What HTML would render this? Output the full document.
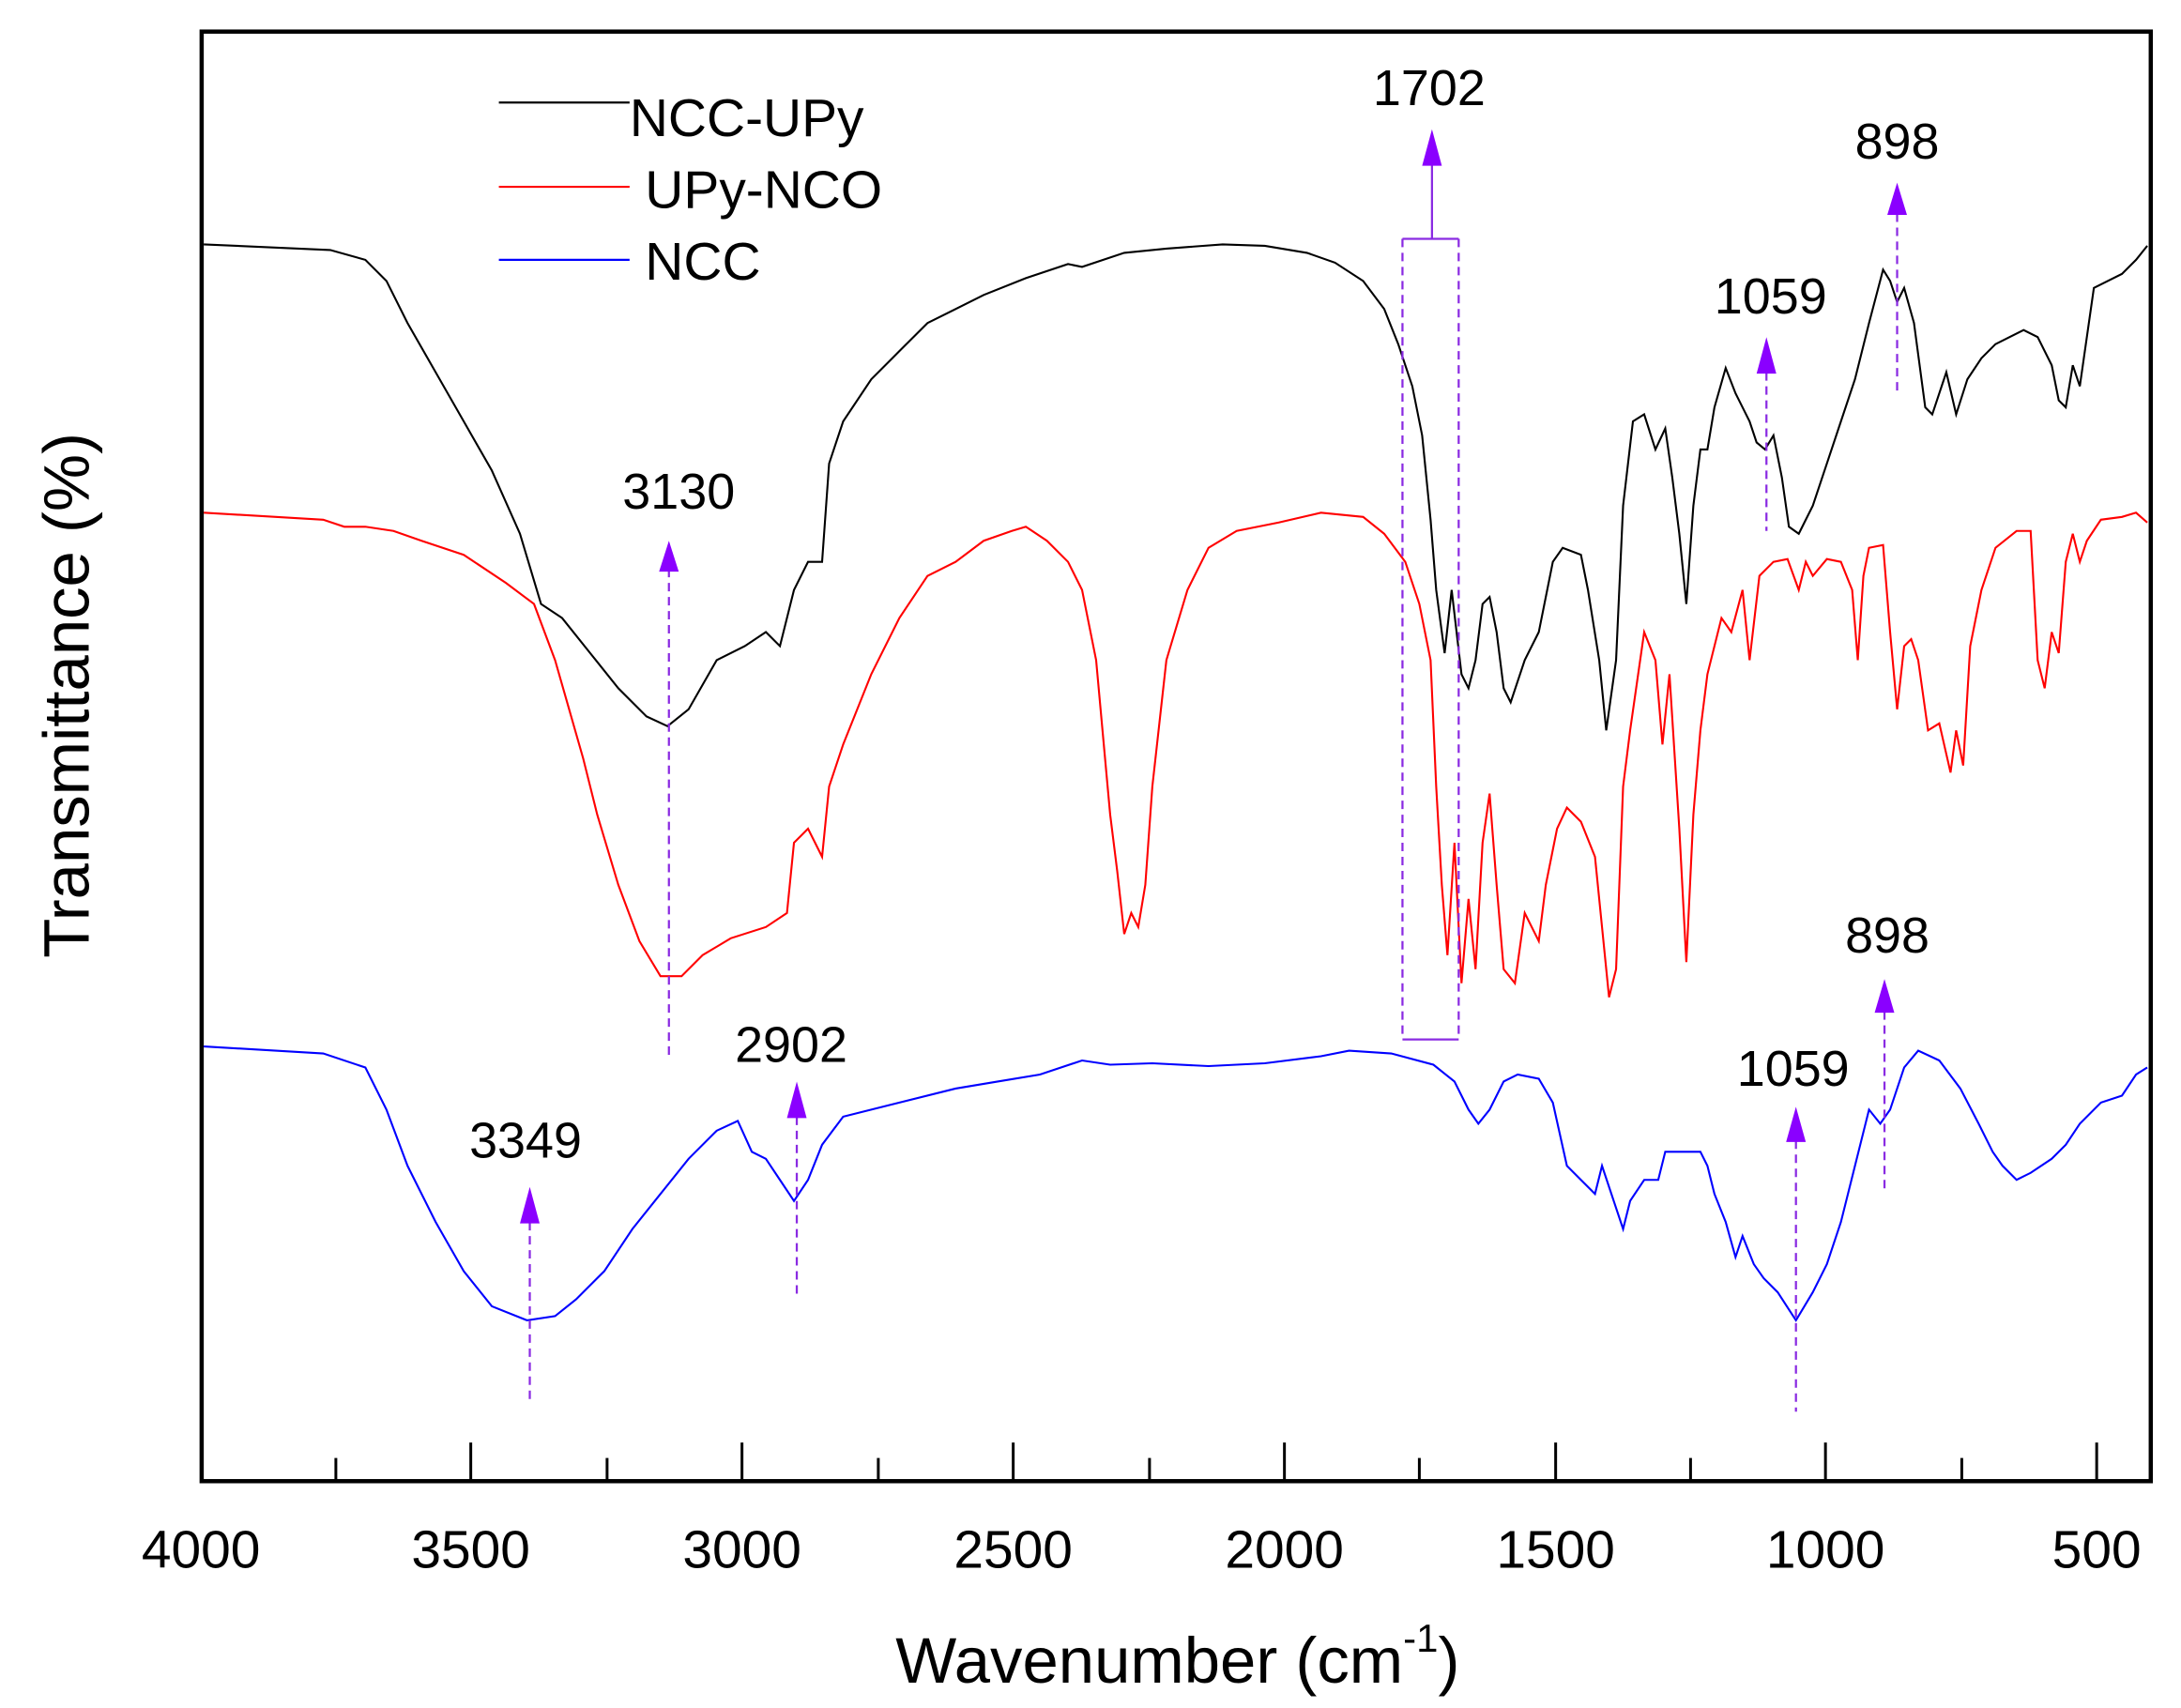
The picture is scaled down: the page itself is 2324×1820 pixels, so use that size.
<!DOCTYPE html>
<html><head><meta charset="utf-8"><style>html,body{margin:0;padding:0;background:#fff}svg{display:block}</style></head>
<body>
<svg width="2324" height="1820" viewBox="0 0 1552 1216" preserveAspectRatio="none" xmlns="http://www.w3.org/2000/svg" font-family="Liberation Sans, Arial, sans-serif">
<rect x="0" y="0" width="1552" height="1216" fill="#fff"/>
<g fill="none" stroke-width="1.4" stroke-linejoin="miter">
<polyline stroke="#000" points="145,174 235,178 260,185 275,200 290,230 310,265 330,300 350,335 370,380 385,430 400,440 420,465 440,490 460,510 475,517 490,505 510,470 530,460 545,450 555,460 565,420 575,400 585,400 590,330 600,300 620,270 640,250 660,230 680,220 700,210 730,198 760,188 770,190 800,180 830,177 870,174 900,175 930,180 950,187 970,200 985,220 995,245 1005,275 1012,310 1018,370 1022,420 1028,465 1033,420 1040,480 1045,490 1050,470 1055,430 1060,425 1065,450 1070,490 1075,500 1085,470 1095,450 1105,400 1112,390 1125,395 1130,420 1138,470 1143,520 1150,470 1155,360 1162,300 1170,295 1178,320 1185,305 1190,340 1195,380 1200,430 1205,360 1210,320 1215,320 1220,290 1228,262 1235,280 1240,290 1245,300 1250,315 1256,320 1262,310 1268,340 1273,375 1280,380 1290,360 1300,330 1310,300 1320,270 1330,230 1340,192 1345,200 1350,215 1355,205 1362,230 1370,290 1375,295 1380,280 1385,265 1392,295 1400,270 1410,255 1420,245 1430,240 1440,235 1450,240 1460,260 1465,285 1470,290 1475,260 1480,275 1490,205 1500,200 1510,195 1520,185 1528,175"/>
<polyline stroke="#f00" points="145,365 230,370 245,375 260,375 280,378 300,385 330,395 360,415 380,430 395,470 405,505 415,540 425,580 440,630 455,670 470,695 485,695 500,680 520,668 545,660 560,650 565,600 575,590 580,600 585,610 590,560 600,530 620,480 640,440 660,410 680,400 700,385 720,378 730,375 745,385 760,400 770,420 780,470 790,580 795,620 800,665 805,650 810,660 815,630 820,560 830,470 845,420 860,390 880,378 910,372 940,365 970,368 985,380 1000,400 1010,430 1018,470 1022,560 1026,630 1030,680 1035,600 1040,700 1045,640 1050,690 1055,600 1060,565 1065,630 1070,690 1078,700 1085,650 1095,670 1100,630 1108,590 1115,575 1125,585 1135,610 1140,660 1145,710 1150,690 1155,560 1160,520 1170,450 1178,470 1183,530 1188,480 1195,590 1200,685 1205,580 1210,520 1215,480 1225,440 1232,450 1240,420 1245,470 1252,410 1262,400 1272,398 1280,420 1285,400 1290,410 1300,398 1310,400 1318,420 1322,470 1326,410 1330,390 1340,388 1345,450 1350,505 1355,460 1360,455 1365,470 1372,520 1380,515 1388,550 1392,520 1397,545 1402,460 1410,420 1420,390 1435,378 1445,378 1450,470 1455,490 1460,450 1465,465 1470,400 1475,380 1480,400 1485,385 1495,370 1510,368 1520,365 1528,372"/>
<polyline stroke="#00f" points="145,745 230,750 260,760 275,790 290,830 310,870 330,905 350,930 375,940 395,937 410,925 430,905 450,875 470,850 490,825 510,805 525,798 535,820 545,825 555,840 565,855 575,840 585,815 600,795 620,790 640,785 680,775 710,770 740,765 770,755 790,758 820,757 860,759 900,757 940,752 960,748 990,750 1020,758 1035,770 1045,790 1052,800 1060,790 1070,770 1080,765 1095,768 1105,785 1115,830 1125,840 1135,850 1140,830 1150,860 1155,875 1160,855 1170,840 1180,840 1185,820 1195,820 1210,820 1215,830 1220,850 1228,870 1235,895 1240,880 1248,900 1255,910 1265,920 1278,940 1290,920 1300,900 1310,870 1320,830 1330,790 1338,800 1345,790 1355,760 1365,748 1380,755 1395,775 1408,800 1418,820 1425,830 1435,840 1445,835 1460,825 1470,815 1480,800 1495,785 1510,780 1520,765 1528,760"/>
</g>
<!-- annotations -->
<g stroke="#8a2be2" stroke-width="1.5" fill="none" stroke-dasharray="6,4">
<line x1="476" y1="405" x2="476" y2="752"/>
<line x1="998" y1="170" x2="998" y2="740"/>
<line x1="1038" y1="170" x2="1038" y2="740"/>
<line x1="1350" y1="152" x2="1350" y2="280"/>
<line x1="1257" y1="265" x2="1257" y2="378"/>
<line x1="377" y1="870" x2="377" y2="1000"/>
<line x1="567" y1="795" x2="567" y2="922"/>
<line x1="1278" y1="812" x2="1278" y2="1005"/>
<line x1="1341" y1="720" x2="1341" y2="848"/>
</g>
<g stroke="#8a2be2" stroke-width="1.5">
<line x1="998" y1="170" x2="1038" y2="170"/>
<line x1="998" y1="740" x2="1038" y2="740"/>
<line x1="1019" y1="170" x2="1019" y2="115"/>
</g>
<g fill="#8a00ff">
<polygon points="476,385 469,407 483,407"/>
<polygon points="1019,92 1012,118 1026,118"/>
<polygon points="1350,130 1343,153 1357,153"/>
<polygon points="1257,240 1250,266 1264,266"/>
<polygon points="377,845 370,871 384,871"/>
<polygon points="567,770 560,796 574,796"/>
<polygon points="1278,788 1271,813 1285,813"/>
<polygon points="1341,697 1334,721 1348,721"/>
</g>
<g font-size="36" fill="#000" text-anchor="middle">
<text x="483" y="362">3130</text>
<text x="1017" y="75">1702</text>
<text x="1350" y="113">898</text>
<text x="1260" y="223">1059</text>
<text x="374" y="824">3349</text>
<text x="563" y="756">2902</text>
<text x="1276" y="773">1059</text>
<text x="1343" y="678">898</text>
</g>
<!-- legend -->
<line x1="355" y1="73" x2="448" y2="73" stroke="#000" stroke-width="1.5"/>
<line x1="355" y1="133" x2="448" y2="133" stroke="#f00" stroke-width="1.5"/>
<line x1="355" y1="185" x2="448" y2="185" stroke="#00f" stroke-width="1.5"/>
<g font-size="38" fill="#000">
<text x="448" y="97">NCC-UPy</text>
<text x="459" y="148">UPy-NCO</text>
<text x="459" y="199">NCC</text>
</g>
<!-- frame -->
<rect x="143.5" y="22.5" width="1387" height="1032" fill="none" stroke="#000" stroke-width="3"/>
<g stroke="#000" stroke-width="2">
<line x1="239" y1="1055" x2="239" y2="1038"/>
<line x1="335" y1="1055" x2="335" y2="1027"/>
<line x1="432" y1="1055" x2="432" y2="1038"/>
<line x1="528" y1="1055" x2="528" y2="1027"/>
<line x1="625" y1="1055" x2="625" y2="1038"/>
<line x1="721" y1="1055" x2="721" y2="1027"/>
<line x1="818" y1="1055" x2="818" y2="1038"/>
<line x1="914" y1="1055" x2="914" y2="1027"/>
<line x1="1010" y1="1055" x2="1010" y2="1038"/>
<line x1="1107" y1="1055" x2="1107" y2="1027"/>
<line x1="1203" y1="1055" x2="1203" y2="1038"/>
<line x1="1299" y1="1055" x2="1299" y2="1027"/>
<line x1="1396" y1="1055" x2="1396" y2="1038"/>
<line x1="1492" y1="1055" x2="1492" y2="1027"/>
</g>
<g font-size="38" fill="#000" text-anchor="middle">
<text x="143" y="1116">4000</text>
<text x="335" y="1116">3500</text>
<text x="528" y="1116">3000</text>
<text x="721" y="1116">2500</text>
<text x="914" y="1116">2000</text>
<text x="1107" y="1116">1500</text>
<text x="1299" y="1116">1000</text>
<text x="1492" y="1116">500</text>
</g>
<text x="838" y="1198" font-size="46" text-anchor="middle" fill="#000">Wavenumber (cm<tspan font-size="28" dy="-22">-1</tspan><tspan dy="22">)</tspan></text>
<text transform="translate(63,495) rotate(-90)" font-size="46" text-anchor="middle" fill="#000">Transmittance (%)</text>
</svg>
</body></html>
